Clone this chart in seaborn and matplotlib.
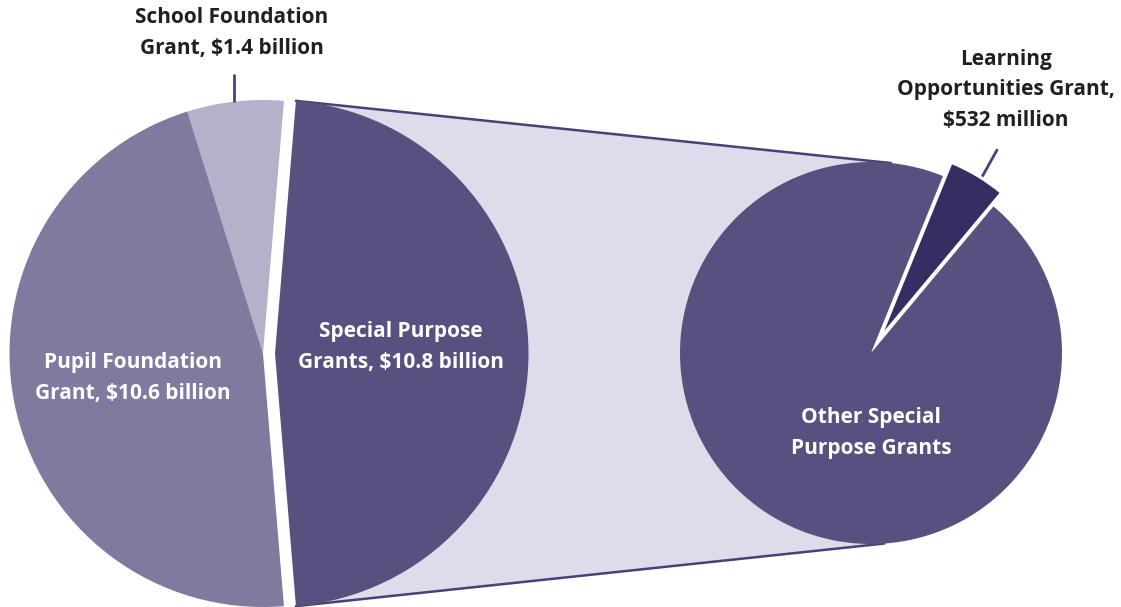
import numpy as np
import matplotlib
matplotlib.use("Agg")
import matplotlib.pyplot as plt
import seaborn as sns

sns.set_theme(style="white")
plt.rcParams['font.family'] = ['Open Sans', 'DejaVu Sans']

# ---- data (billions of dollars) ----
main_labels = ["Special Purpose\nGrants, $10.8 billion",
               "School Foundation\nGrant, $1.4 billion",
               "Pupil Foundation\nGrant, $10.6 billion"]
main_values = [10.8, 1.4, 10.6]
sub_labels = ["Learning\nOpportunities Grant,\n$532 million",
              "Other Special\nPurpose Grants"]
sub_values = [0.532, 10.8 - 0.532]

# ---- colours ----
c_pupil = "#817a9f"
c_school = "#b4b1cb"
c_special = "#58507f"
c_learning = "#372d63"
c_connect = "#dddceb"
c_line = "#4a4178"
c_text = "#231f20"

W, H = 1121, 607
fig = plt.figure(figsize=(W / 100, H / 100), dpi=100)
ax = fig.add_axes([0, 0, 1, 1])

# left pie geometry
lc = (263, 253.5)
lr = 253.5
total = sum(main_values)
special_span = 360 * main_values[0] / total
l_start = -special_span / 2
l_explode = 12  # data units

# right pie geometry
rc = (871, 254)
rr = 191
sub_total = sum(sub_values)
learn_span = 360 * sub_values[0] / sub_total
learn_mid = 59
r_start = learn_mid - learn_span / 2
r_explode = 16

wl, _ = ax.pie(main_values, colors=[c_special, c_school, c_pupil],
               startangle=l_start, counterclock=True, radius=lr, center=lc,
               explode=[l_explode, 0, 0],
               wedgeprops=dict(linewidth=0), frame=True)

# connector between exploded slice and right pie
a_top = np.deg2rad(special_span / 2)
ox = lc[0] + l_explode
p_top_l = (ox + lr * np.cos(a_top), lc[1] + lr * np.sin(a_top))
p_bot_l = (ox + lr * np.cos(-a_top), lc[1] + lr * np.sin(-a_top))
a_r_top = np.deg2rad(84)
a_r_bot = np.deg2rad(-86)
p_top_r = (rc[0] + rr * np.cos(a_r_top), rc[1] + rr * np.sin(a_r_top))
p_bot_r = (rc[0] + rr * np.cos(a_r_bot), rc[1] + rr * np.sin(a_r_bot))
ax.fill([p_top_l[0], p_top_r[0], rc[0], p_bot_r[0], p_bot_l[0], lc[0] + 100],
        [p_top_l[1], p_top_r[1], rc[1], p_bot_r[1], p_bot_l[1], lc[1]],
        color=c_connect, zorder=0, lw=0)
ax.plot([p_top_l[0], p_top_r[0]], [p_top_l[1], p_top_r[1]], color=c_line, lw=1.8, zorder=0.5)
ax.plot([p_bot_l[0], p_bot_r[0]], [p_bot_l[1], p_bot_r[1]], color=c_line, lw=1.8, zorder=0.5)

wr, _ = ax.pie(sub_values, colors=[c_learning, c_special],
               startangle=r_start, counterclock=True, radius=rr, center=rc,
               explode=[r_explode, 0],
               wedgeprops=dict(linewidth=0), frame=True)
for w in wl + wr:
    w.set_zorder(2)
    w.set_clip_on(False)
wr[0].set_edgecolor("white")
wr[0].set_linewidth(2.2)
wr[0].set_zorder(3)

ax.set_xlim(0, W)
ax.set_ylim(0, H)
ax.set_aspect("equal")
ax.axis("off")

fs = 15
kw = dict(fontsize=fs, fontweight="bold", ha="center", va="center",
          linespacing=1.6, zorder=5)
# labels inside
ax.text(401, H - 347, main_labels[0], color="white", **kw)
ax.text(133, H - 378, main_labels[2], color="white", **kw)
ax.text(871, H - 433, sub_labels[1], color="white", **kw)
# outside labels
ax.text(232, H - 33, main_labels[1], color=c_text, **kw)
ax.plot([234, 234], [H - 75, H - 101], color=c_line, lw=2)
ax.text(1006, H - 90, sub_labels[0], color=c_text, **kw)
ax.plot([997, 982], [H - 150, H - 177], color=c_line, lw=2)

fig.savefig("out.png", dpi=100)
